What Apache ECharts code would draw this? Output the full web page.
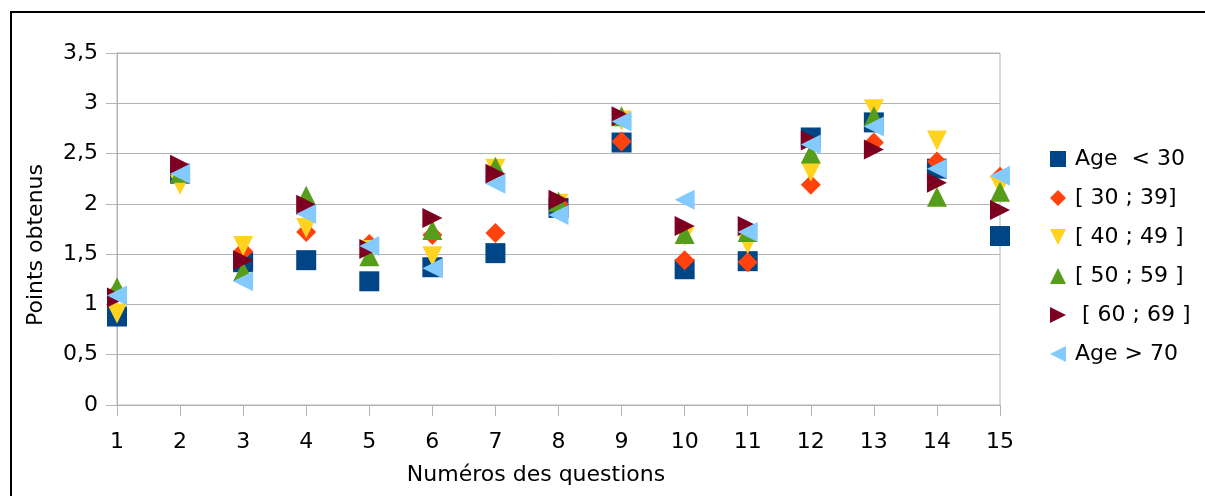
<!DOCTYPE html>
<html>
<head>
<meta charset="utf-8">
<script src="https://cdn.jsdelivr.net/npm/echarts@6/dist/echarts.min.js"></script>
<style>
html,body{margin:0;padding:0;background:#fff;}
#chart{width:1205px;height:496px;}
</style>
</head>
<body>
<div id="chart"></div>
<script>
// ---- data ----
var questions = [1,2,3,4,5,6,7,8,9,10,11,12,13,14,15];
var seriesNames = ['Age  < 30', '[ 30 ; 39]', '[ 40 ; 49 ]', '[ 50 ; 59 ]', ' [ 60 ; 69 ]', 'Age > 70'];
var ageUnder30 = [0.88, 2.30, 1.42, 1.44, 1.23, 1.37, 1.51, 1.96, 2.61, 1.35, 1.43, 2.66, 2.81, 2.35, 1.68];
var age30to39  = [1.12, 2.30, 1.53, 1.72, 1.60, 1.69, 1.71, 2.00, 2.62, 1.44, 1.42, 2.19, 2.61, 2.42, 2.27];
var age40to49  = [0.91, 2.19, 1.58, 1.76, 1.54, 1.48, 2.35, 2.00, 2.83, 1.68, 1.60, 2.32, 2.94, 2.63, 2.18];
var age50to59  = [1.17, 2.31, 1.33, 2.08, 1.48, 1.74, 2.37, 2.02, 2.87, 1.70, 1.72, 2.50, 2.87, 2.07, 2.12];
var age60to69  = [1.07, 2.39, 1.44, 1.99, 1.55, 1.86, 2.30, 2.04, 2.87, 1.78, 1.78, 2.63, 2.54, 2.21, 1.94];
var ageOver70  = [1.09, 2.30, 1.23, 1.90, 1.58, 1.36, 2.20, 1.89, 2.82, 2.04, 1.72, 2.59, 2.77, 2.35, 2.28];
var yTickValues = [0, 0.5, 1, 1.5, 2, 2.5, 3, 3.5];
var yTickLabels = ['0', '0,5', '1', '1,5', '2', '2,5', '3', '3,5'];
var xAxisTitle = 'Numéros des questions';
var yAxisTitle = 'Points obtenus';

// ---- styling ----
var FONT = 'DejaVu Sans';
var GRID_COLOR = '#b3b3b3';
var styles = [
  {color:'#004586', symbol:'rect', rotate:0, size:20, icon:'rect'},
  {color:'#ff420e', symbol:'diamond', rotate:0, size:20, icon:'diamond'},
  {color:'#ffd320', symbol:'triangle', rotate:180, size:20, icon:'path://M0,0L2,0L1,2Z'},
  {color:'#579d1c', symbol:'triangle', rotate:0, size:20, icon:'triangle'},
  {color:'#7e0021', symbol:'triangle', rotate:-90, size:20, icon:'path://M0,0L2,1L0,2Z'},
  {color:'#83caff', symbol:'triangle', rotate:90, size:20, icon:'path://M2,0L0,1L2,2Z'}
];
var allValues = [ageUnder30, age30to39, age40to49, age50to59, age60to69, ageOver70];

var series = allValues.map(function(vals, i){
  return {
    name: seriesNames[i],
    type: 'scatter',
    clip: false,
    symbol: styles[i].symbol,
    symbolSize: styles[i].size,
    symbolRotate: styles[i].rotate,
    itemStyle: {color: styles[i].color, opacity: 1},
    emphasis: {disabled: true},
    data: questions.map(function(q, j){ return [q, vals[j]]; })
  };
});

var chart = echarts.init(document.getElementById('chart'), null, {renderer:'canvas'});
chart.setOption({
  animation: false,
  backgroundColor: '#ffffff',
  grid: {left:117, right:205, top:53, bottom:91, show:true, borderColor:GRID_COLOR, borderWidth:1, backgroundColor:'transparent'},
  xAxis: {
    type: 'value', min: 1, max: 15, interval: 1,
    axisLine: {show:true, lineStyle:{color:GRID_COLOR, width:1}},
    axisTick: {show:true, inside:false, length:11, lineStyle:{color:GRID_COLOR}},
    splitLine: {show:false},
    axisLabel: {margin:26, color:'#000', fontFamily:FONT, fontSize:22,
      formatter: function(v){ return String(questions[questions.indexOf(v)]); }}
  },
  yAxis: {
    type: 'value', min: 0, max: 3.5, interval: 0.5,
    axisLine: {show:true, lineStyle:{color:GRID_COLOR, width:1}},
    axisTick: {show:true, inside:false, length:11, lineStyle:{color:GRID_COLOR}},
    splitLine: {show:true, lineStyle:{color:GRID_COLOR, width:1}},
    axisLabel: {margin:19, color:'#000', fontFamily:FONT, fontSize:22,
      formatter: function(v){ var k = yTickValues.indexOf(v); return k >= 0 ? yTickLabels[k] : ''; }}
  },
  legend: {
    orient: 'vertical', left: 1050, top: 148, padding: 0,
    itemWidth: 16, itemHeight: 16, itemGap: 17,
    textStyle: {color:'#000', fontFamily:FONT, fontSize:22, padding:[0,0,0,4]},
    data: seriesNames.map(function(n, i){ return {name:n, icon:styles[i].icon}; })
  },
  graphic: [
    {type:'rect', silent:true, shape:{x:11, y:12, width:1400, height:700}, style:{fill:'none', stroke:'#000', lineWidth:2}},
    {type:'text', silent:true, x:536, y:475, style:{text:xAxisTitle, fill:'#000', font:'22px "DejaVu Sans"', textAlign:'center', textVerticalAlign:'middle'}},
    {type:'text', silent:true, x:36, y:245, rotation:Math.PI/2, style:{text:yAxisTitle, fill:'#000', font:'22px "DejaVu Sans"', textAlign:'center', textVerticalAlign:'middle'}}
  ],
  series: series
});
</script>
</body>
</html>
